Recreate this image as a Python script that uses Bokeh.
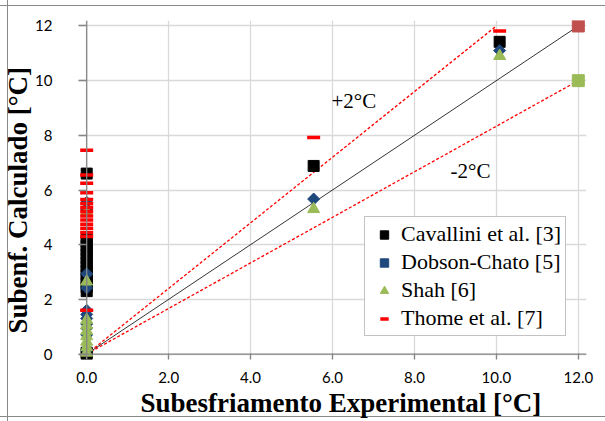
from bokeh.plotting import figure
from bokeh.models import (Range1d, Label, Legend, LegendItem, Span, Title,
                          NumeralTickFormatter, FixedTicker)
from bokeh.embed import file_html
from bokeh.resources import INLINE

# ---- data -----------------------------------------------------------------
x_ticks = [0, 2, 4, 6, 8, 10, 12]
y_ticks = [0, 2, 4, 6, 8, 10, 12]

cav_x = [0, 0, 0, 0, 0, 0, 0, 0, 0, 0, 0, 0, 0, 0, 0, 0, 0, 5.54, 10.08]
cav_y = [6.6, 4.25, 4.1, 3.95, 3.8, 3.65, 3.5, 3.35, 3.2, 3.05, 2.9, 2.75,
         2.6, 2.45, 2.3, 0.05, 0.0, 6.88, 11.42]

dob_x = [0, 0, 0, 0, 0, 0, 0, 0, 0, 0, 0, 5.54, 10.08]
dob_y = [5.55, 5.3, 2.93, 2.42, 1.6, 1.45, 1.3, 1.1, 0.95, 0.7, 0.15,
         5.67, 11.1]

shah_x = [0, 0, 0, 0, 0, 0, 0, 0, 0, 5.54, 10.08]
shah_y = [5.2, 2.65, 1.25, 1.05, 0.85, 0.65, 0.45, 0.25, 0.05, 5.3, 10.9]

thome_x = [0, 0, 0, 0, 0, 0, 0, 0, 0, 0, 0, 0, 0, 0, 0, 5.54, 10.08]
thome_y = [7.45, 6.55, 6.25, 5.9, 5.65, 5.5, 5.35, 5.2, 5.05, 4.9, 4.75,
           4.6, 4.45, 4.3, 1.6, 7.92, 11.82]

ref_x = [0, 12]      # y = x
ref_y = [0, 12]
plus_x = [0, 10]     # upper limit
plus_y = [0, 12]
minus_x = [0, 12]    # lower limit
minus_y = [0, 10]

x_title = "Subesfriamento Experimental [°C]"
y_title = "Subenf. Calculado [°C]"

# chart-area border (left / top / bottom edges) drawn behind the canvas
BORDER = "#898989"
bg = ", ".join([
    f"linear-gradient(to right, transparent 7px, {BORDER} 7px, {BORDER} 8px, transparent 8px)",
    f"linear-gradient(to bottom, transparent 5px, {BORDER} 5px, {BORDER} 6px, transparent 6px)",
    f"linear-gradient(to bottom, transparent 416px, {BORDER} 416px, {BORDER} 417px, transparent 417px)",
])

# ---- figure ---------------------------------------------------------------
p = figure(frame_width=508, frame_height=339,
           x_range=Range1d(-0.2, 12.2), y_range=Range1d(-0.2, 12.2),
           min_border_left=77, min_border_top=20, min_border_right=20,
           min_border_bottom=62,
           output_backend="svg", toolbar_location=None,
           background_fill_color="white", border_fill_color=None,
           outline_line_color=None,
           styles={"background-image": bg, "background-color": "white"})

p.xgrid.ticker = FixedTicker(ticks=x_ticks)
p.ygrid.ticker = FixedTicker(ticks=y_ticks)
p.grid.grid_line_color = "#D9D9D9"
p.grid.grid_line_width = 1.3

# axis lines at zero
p.add_layout(Span(location=x_ticks[0], dimension="height",
                  line_color="#868686", line_width=1.3))
p.add_layout(Span(location=y_ticks[0], dimension="width",
                  line_color="#868686", line_width=1.3))

# reference lines
p.line(ref_x, ref_y, color="black", line_width=0.8)
p.line(plus_x, plus_y, color="#FF0000", line_width=1.3, line_dash="3 2")
p.line(minus_x, minus_y, color="#FF0000", line_width=1.3, line_dash="3 2")
p.scatter(ref_x[-1:], ref_y[-1:], marker="square", size=12,
          fill_color="#C0504D", line_color="#C0504D")
p.scatter(minus_x[-1:], minus_y[-1:], marker="square", size=12,
          fill_color="#9BBB59", line_color="#9BBB59")

r_cav = p.scatter(cav_x, cav_y, marker="square", size=11,
                  fill_color="black", line_color="black")
r_dob = p.scatter(dob_x, dob_y, marker="square", size=8.5, angle=0.7854,
                  fill_color="#1F497D", line_color="#1F497D")
r_shah = p.scatter(shah_x, shah_y, marker="triangle", size=12,
                   fill_color="#9BBB59", line_color="#9BBB59")
r_thome = p.scatter(thome_x, thome_y, marker="dash", size=13,
                    line_color="#FF0000", line_width=3.5)

# labels
p.add_layout(Label(x=6.52, y=9.27, text="+2°C", text_align="center",
                   text_baseline="middle", text_font="Liberation Serif",
                   text_font_size="21px", text_color="black"))
p.add_layout(Label(x=9.37, y=6.7, text="-2°C", text_align="center",
                   text_baseline="middle", text_font="Liberation Serif",
                   text_font_size="21px", text_color="black"))

# axes
for ax in (p.xaxis, p.yaxis):
    ax.axis_line_color = None
    ax.major_tick_line_color = "#868686"
    ax.major_tick_line_width = 1.3
    ax.minor_tick_line_color = None
    ax.major_label_text_font = "Lato"
    ax.major_label_text_font_size = "15px"
    ax.major_label_text_color = "black"

p.xaxis.major_tick_in = 6
p.xaxis.major_tick_out = 0
p.yaxis.major_tick_in = 8
p.yaxis.major_tick_out = 0

p.xaxis.ticker = FixedTicker(ticks=x_ticks)
p.yaxis.ticker = FixedTicker(ticks=y_ticks)
p.xaxis.formatter = NumeralTickFormatter(format="0.0")
p.xaxis.major_label_standoff = 12
p.yaxis.major_label_standoff = 26

# axis titles as side-panel titles
p.add_layout(Title(text=x_title, align="left", offset=62, standoff=0,
                   text_font="Liberation Serif", text_font_style="bold",
                   text_font_size="27px", text_color="black"), "below")
p.add_layout(Title(text=y_title, align="left", offset=26, standoff=0,
                   text_font="Liberation Serif", text_font_style="bold",
                   text_font_size="27px", text_color="black"), "left")

legend = Legend(items=[
    LegendItem(label="Cavallini et al. [3]", renderers=[r_cav]),
    LegendItem(label="Dobson-Chato [5]", renderers=[r_dob]),
    LegendItem(label="Shah [6]", renderers=[r_shah]),
    LegendItem(label="Thome et al. [7]", renderers=[r_thome]),
], location=(286, 23))
legend.label_text_font = "Liberation Serif"
legend.label_text_font_size = "22px"
legend.label_text_color = "black"
legend.label_height = 21
legend.glyph_height = 21
legend.glyph_width = 30
legend.label_standoff = 2
legend.spacing = 2
legend.padding = 4
legend.margin = 0
legend.border_line_color = "#868686"
legend.border_line_width = 1.3
legend.background_fill_color = "white"
legend.background_fill_alpha = 1.0
p.add_layout(legend)

open("out.html", "w").write(file_html(p, INLINE))
